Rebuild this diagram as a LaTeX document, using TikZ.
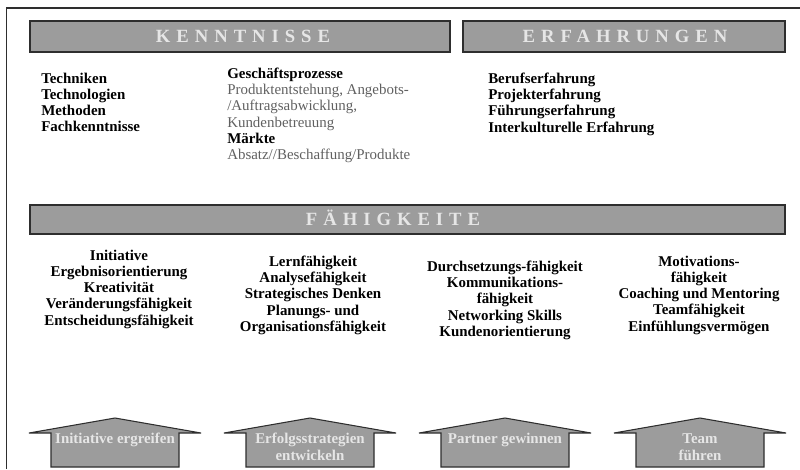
\documentclass[tikz,border=0pt]{standalone}
\usepackage{fontspec}
\setmainfont{Liberation Serif}
\usetikzlibrary{positioning}
\definecolor{bargrey}{HTML}{9C9C9C}
\definecolor{bardark}{HTML}{2E2E2E}
\definecolor{headgrey}{HTML}{E6E6E6}
\definecolor{detailgrey}{HTML}{606060}
\newcommand{\headfont}{\bfseries\fontsize{14}{16}\selectfont\addfontfeature{LetterSpace=32}}
\newcommand{\itemfont}{\bfseries\fontsize{11.2}{12.2}\selectfont}

\begin{document}
\begin{tikzpicture}[x=0.75pt,y=-0.75pt,
  bar/.style={draw=bardark, fill=bargrey, line width=1.1pt},
  headtxt/.style={text=headgrey, font=\headfont, text height=9.3pt, text depth=0pt, inner sep=0},
  itemlist/.style={font=\itemfont, align=left, anchor=north west, inner sep=0},
  skill/.style={font=\itemfont, align=center, anchor=north, inner sep=0},
  roof/.style={draw=bardark, fill=bargrey, line width=0.8pt, line join=miter},
  rooftxt/.style={text=headgrey, font=\bfseries\fontsize{11.2}{12.8}\selectfont, align=center, anchor=north, inner sep=0}]
  \useasboundingbox (0,0) rectangle (800,469);

  % Frame
  \draw[bardark, line width=1.1pt] (6.5,469) -- (6.5,8) -- (800,8);

  % Header bars
  \draw[bar] (30,21) rectangle (450,52);
  \node[headtxt] (kenntnisse) at (243,36.5) {KENNTNISSE};
  \draw[bar] (463,21) rectangle (785,52);
  \node[headtxt] (erfahrungen) at (625,36.5) {ERFAHRUNGEN};

  % Knowledge and experience
  \node[itemlist] (technik) at (41,72.5) {Techniken\\Technologien\\Methoden\\Fachkenntnisse};
  \node[itemlist] (prozesse) at (227,67.5) {Geschäftsprozesse\\
    {\mdseries\color{detailgrey}Produktentstehung, Angebots-}\\
    {\mdseries\color{detailgrey}/Auftragsabwicklung,}\\
    {\mdseries\color{detailgrey}Kundenbetreuung}\\
    Märkte\\
    {\mdseries\color{detailgrey}Absatz//Beschaffung/Produkte}};
  \node[itemlist] (erfahrung) at (488,72.5) {Berufserfahrung\\Projekterfahrung\\Führungserfahrung\\Interkulturelle Erfahrung};

  % Skills bar
  \draw[bar] (30,205) rectangle (785,234);
  \node[headtxt] (faehigkeit) at (393,219.5) {FÄHIGKEITE};

  % Skill columns
  \node[skill] (skill-1) at (119,249.5) {Initiative\\Ergebnisorientierung\\Kreativität\\Veränderungsfähigkeit\\Entscheidungsfähigkeit};
  \node[skill] (skill-2) at (313,255.5) {Lernfähigkeit\\Analysefähigkeit\\Strategisches Denken\\Planungs- und\\Organisationsfähigkeit};
  \node[skill] (skill-3) at (505,260.5) {Durchsetzungs-fähigkeit\\Kommunikations-\\fähigkeit\\Networking Skills\\Kundenorientierung};
  \node[skill] (skill-4) at (699,255.5) {Motivations-\\fähigkeit\\Coaching und Mentoring\\Teamfähigkeit\\Einfühlungsvermögen};

  % Goal arrows
  \foreach \cx/\txt [count=\i] in {115/{Initiative ergreifen}, 310/{Erfolgsstrategien\\entwickeln},
      505/{Partner gewinnen}, 700/{Team\\führen}} {
    \draw[roof] (\cx-64,467) -- (\cx-64,433) -- (\cx-86,433) -- (\cx,418)
      -- (\cx+86,433) -- (\cx+64,433) -- (\cx+64,467) -- cycle;
    \node[rooftxt] (goal-\i) at (\cx,433) {\txt};
  }
\end{tikzpicture}
\end{document}
